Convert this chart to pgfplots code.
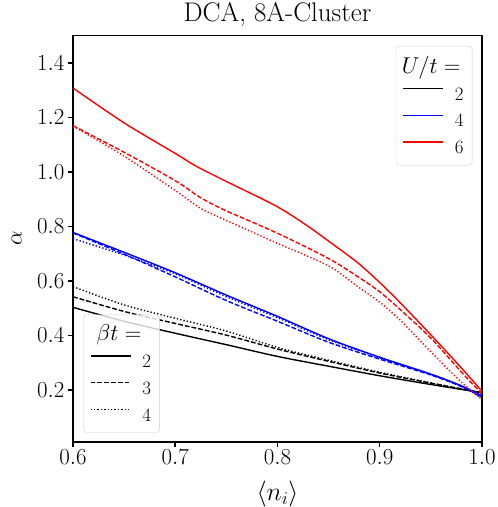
\RequirePackage{fix-cm}
\documentclass[border=0pt]{standalone}
\usepackage{pgfplots}
\pgfplotsset{compat=1.18}

% alpha vs <n_i>, one table per (U, beta)
\pgfplotstableread{
x y
0.600 1.308
0.650 1.180
0.700 1.068
0.720 1.022
0.750 0.965
0.800 0.872
0.830 0.800
0.850 0.746
0.865 0.705
0.880 0.662
0.900 0.594
0.920 0.520
0.950 0.402
0.980 0.280
1.000 0.195
}\uSixbTwo
\pgfplotstableread{
x y
0.600 1.170
0.650 1.072
0.700 0.968
0.725 0.905
0.750 0.857
0.800 0.775
0.850 0.682
0.880 0.612
0.900 0.560
0.920 0.495
0.950 0.390
0.980 0.265
1.000 0.185
}\uSixbThree
\pgfplotstableread{
x y
0.600 1.168
0.650 1.058
0.700 0.932
0.725 0.866
0.750 0.822
0.800 0.738
0.850 0.655
0.880 0.575
0.900 0.522
0.920 0.456
0.950 0.340
0.980 0.228
1.000 0.165
}\uSixbFour
\pgfplotstableread{
x y
0.600 0.778
0.650 0.705
0.700 0.630
0.750 0.548
0.800 0.470
0.850 0.388
0.900 0.320
0.950 0.258
0.980 0.215
1.000 0.178
}\uFourbTwo
\pgfplotstableread{
x y
0.600 0.776
0.650 0.698
0.700 0.615
0.750 0.528
0.800 0.452
0.850 0.375
0.900 0.313
0.950 0.255
0.980 0.212
1.000 0.175
}\uFourbThree
\pgfplotstableread{
x y
0.600 0.755
0.650 0.695
0.700 0.626
0.750 0.542
0.800 0.465
0.850 0.384
0.900 0.318
0.950 0.257
0.980 0.213
1.000 0.170
}\uFourbFour
\pgfplotstableread{
x y
0.600 0.503
0.650 0.452
0.700 0.408
0.750 0.366
0.800 0.323
0.850 0.287
0.900 0.252
0.950 0.220
1.000 0.190
}\uTwobTwo
\pgfplotstableread{
x y
0.600 0.542
0.650 0.488
0.700 0.444
0.750 0.401
0.800 0.350
0.850 0.305
0.900 0.262
0.950 0.225
1.000 0.190
}\uTwobThree
\pgfplotstableread{
x y
0.600 0.579
0.650 0.512
0.700 0.463
0.750 0.416
0.800 0.356
0.850 0.309
0.900 0.265
0.950 0.226
1.000 0.188
}\uTwobFour

\tikzset{
  b2/.style={solid},
  b3/.style={dash pattern=on 4.8bp off 2bp},
  b4/.style={dash pattern=on 1.3bp off 2.1bp},
}

\begin{document}
\begin{tikzpicture}
\useasboundingbox (-73bp,-65.3bp) rectangle (425bp,441.7bp);

\begin{axis}[
    at={(0,0)}, anchor=south west, scale only axis,
    width=409bp, height=406bp,
    xmin=0.6, xmax=1.0, ymin=0.01, ymax=1.5,
    xtick={0.6,0.7,0.8,0.9,1.0},
    ytick={0.2,0.4,0.6,0.8,1.0,1.2,1.4},
    xticklabel style={/pgf/number format/.cd, fixed, fixed zerofill, precision=1},
    yticklabel style={/pgf/number format/.cd, fixed, fixed zerofill, precision=1},
    tick label style={font=\fontsize{23}{27}\selectfont},
    tick align=outside, xtick pos=bottom, ytick pos=left,
    major tick length=5bp,
    every tick/.style={black, line width=1.5bp},
    axis line style={line width=1.6bp},
    title={DCA, 8A-Cluster},
    title style={at={(0.5,1)}, anchor=base, yshift=8.7bp, font=\fontsize{27}{32}\selectfont},
    xlabel={$\langle n_i\rangle$},
    ylabel={$\alpha$},
    xlabel style={at={(axis description cs:0.5,-0.129)}, anchor=center, font=\fontsize{26}{31}\selectfont},
    ylabel style={at={(axis description cs:-0.1377,0.5)}, anchor=center, font=\fontsize{23}{27}\selectfont},
    legend cell align=left,
    legend image code/.code={\draw[#1] (0bp,6bp) -- (40bp,6bp);},
    legend style={at={(1,1)}, anchor=north east, xshift=-9.7bp, yshift=-10.3bp,
        draw=black!20, rounded corners=3bp, fill=white, fill opacity=0.8,
        text opacity=1, draw opacity=1,
        font=\fontsize{19}{22}\selectfont,
        inner xsep=6.5bp, inner ysep=8bp, row sep=8.7bp,
        /tikz/every odd column/.append style={column sep=9bp}},
    every axis plot/.append style={line width=1.4bp, smooth},
]
\addplot[black, b2, forget plot] table {\uTwobTwo};
\addplot[black, b3, forget plot] table {\uTwobThree};
\addplot[black, b4, forget plot] table {\uTwobFour};
\addplot[blue, b2, forget plot] table {\uFourbTwo};
\addplot[blue, b3, forget plot] table {\uFourbThree};
\addplot[blue, b4, forget plot] table {\uFourbFour};
\addplot[red, b2, forget plot] table {\uSixbTwo};
\addplot[red, b3, forget plot] table {\uSixbThree};
\addplot[red, b4, forget plot] table {\uSixbFour};

\addlegendimage{empty legend}
\addlegendentry{\hspace{-53bp}\fontsize{23}{26}\selectfont$U/t=$}
\addlegendimage{color=black, line width=1.4bp}
\addlegendentry{2}
\addlegendimage{color=blue, line width=1.4bp}
\addlegendentry{4}
\addlegendimage{color=red, line width=1.4bp}
\addlegendentry{6}
\end{axis}

\begin{axis}[
    at={(0,0)}, anchor=south west, scale only axis,
    width=409bp, height=406bp, hide axis,
    xmin=0.6, xmax=1.0, ymin=0.01, ymax=1.5,
    legend cell align=left,
    legend image code/.code={\draw[#1] (0bp,6bp) -- (40bp,6bp);},
    legend style={at={(0,0)}, anchor=south west, xshift=10.3bp, yshift=9bp,
        draw=black!20, rounded corners=3bp, fill=white, fill opacity=0.8,
        text opacity=1, draw opacity=1,
        font=\fontsize{19}{22}\selectfont,
        inner xsep=6.5bp, inner ysep=8bp, row sep=8.7bp,
        /tikz/every odd column/.append style={column sep=9bp}},
]
\addlegendimage{empty legend}
\addlegendentry{\hspace{-46bp}\fontsize{23}{26}\selectfont$\beta t=$}
\addlegendimage{color=black, line width=1.4bp, b2}
\addlegendentry{2}
\addlegendimage{color=black, line width=1.4bp, b3}
\addlegendentry{3}
\addlegendimage{color=black, line width=1.4bp, b4}
\addlegendentry{4}
\end{axis}
\end{tikzpicture}
\end{document}
